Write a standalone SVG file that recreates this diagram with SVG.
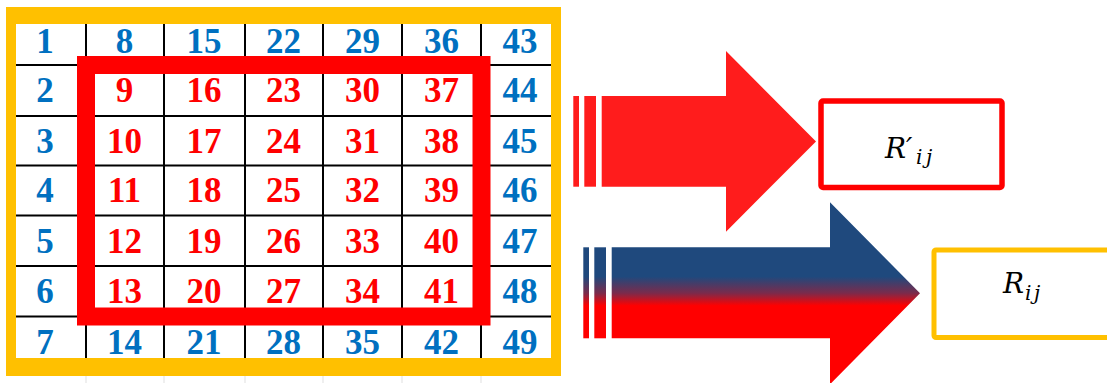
<svg xmlns="http://www.w3.org/2000/svg" width="1107" height="383" viewBox="0 0 1107 383">
<style>
.n{font-family:"Liberation Serif","Times New Roman",serif;font-weight:bold;font-size:35px;text-anchor:middle}
.b{fill:#0070C0}
.r{fill:#FF0000}
.gl{stroke:#000;stroke-width:2}
.m{font-family:"DejaVu Serif",serif;font-style:italic;font-size:28px;fill:#000}
.s{font-size:20px}
</style>
<defs>
<linearGradient id="grad" gradientUnits="userSpaceOnUse" x1="0" y1="202" x2="0" y2="384">
<stop offset="0" stop-color="#1F497D"/>
<stop offset="0.41" stop-color="#1F497D"/>
<stop offset="0.5" stop-color="#7A2B4C"/>
<stop offset="0.57" stop-color="#FF0000"/>
<stop offset="1" stop-color="#FF0000"/>
</linearGradient>
</defs>

<g id="matrix">
<rect x="6" y="7" width="555" height="369" fill="#FFC000"/>
<rect x="16" y="24" width="535" height="334" fill="#FFFFFF"/>
<g class="gl">
<line x1="86" y1="24" x2="86" y2="358"/>
<line x1="164" y1="24" x2="164" y2="358"/>
<line x1="245" y1="24" x2="245" y2="358"/>
<line x1="323" y1="24" x2="323" y2="358"/>
<line x1="402" y1="24" x2="402" y2="358"/>
<line x1="481" y1="24" x2="481" y2="358"/>
<line x1="16" y1="65" x2="551" y2="65"/>
<line x1="16" y1="116" x2="551" y2="116"/>
<line x1="16" y1="165.5" x2="551" y2="165.5"/>
<line x1="16" y1="215.5" x2="551" y2="215.5"/>
<line x1="16" y1="266" x2="551" y2="266"/>
<line x1="16" y1="316.5" x2="551" y2="316.5"/>
</g>
<g stroke="#E4E4E4" stroke-width="1.2">
<line x1="86" y1="376" x2="86" y2="383"/>
<line x1="164" y1="376" x2="164" y2="383"/>
<line x1="245" y1="376" x2="245" y2="383"/>
<line x1="323" y1="376" x2="323" y2="383"/>
<line x1="402" y1="376" x2="402" y2="383"/>
<line x1="481" y1="376" x2="481" y2="383"/>
</g>
<rect x="86" y="65" width="395.5" height="251.5" fill="none" stroke="#FF0000" stroke-width="18"/>
<g class="n">
<text class="b" x="45" y="53">1</text>
<text class="b" x="45" y="102">2</text>
<text class="b" x="45" y="152.5">3</text>
<text class="b" x="45" y="202">4</text>
<text class="b" x="45" y="253">5</text>
<text class="b" x="45" y="303">6</text>
<text class="b" x="45" y="354">7</text>

<text class="b" x="124.5" y="53">8</text>
<text class="r" x="124.5" y="102">9</text>
<text class="r" x="124.5" y="152.5">10</text>
<text class="r" x="124.5" y="202">11</text>
<text class="r" x="124.5" y="253">12</text>
<text class="r" x="124.5" y="303">13</text>
<text class="b" x="124.5" y="354">14</text>

<text class="b" x="204" y="53">15</text>
<text class="r" x="204" y="102">16</text>
<text class="r" x="204" y="152.5">17</text>
<text class="r" x="204" y="202">18</text>
<text class="r" x="204" y="253">19</text>
<text class="r" x="204" y="303">20</text>
<text class="b" x="204" y="354">21</text>

<text class="b" x="283.5" y="53">22</text>
<text class="r" x="283.5" y="102">23</text>
<text class="r" x="283.5" y="152.5">24</text>
<text class="r" x="283.5" y="202">25</text>
<text class="r" x="283.5" y="253">26</text>
<text class="r" x="283.5" y="303">27</text>
<text class="b" x="283.5" y="354">28</text>

<text class="b" x="362.5" y="53">29</text>
<text class="r" x="362.5" y="102">30</text>
<text class="r" x="362.5" y="152.5">31</text>
<text class="r" x="362.5" y="202">32</text>
<text class="r" x="362.5" y="253">33</text>
<text class="r" x="362.5" y="303">34</text>
<text class="b" x="362.5" y="354">35</text>

<text class="b" x="441.5" y="53">36</text>
<text class="r" x="441.5" y="102">37</text>
<text class="r" x="441.5" y="152.5">38</text>
<text class="r" x="441.5" y="202">39</text>
<text class="r" x="441.5" y="253">40</text>
<text class="r" x="441.5" y="303">41</text>
<text class="b" x="441.5" y="354">42</text>

<text class="b" x="520" y="53">43</text>
<text class="b" x="520" y="102">44</text>
<text class="b" x="520" y="152.5">45</text>
<text class="b" x="520" y="202">46</text>
<text class="b" x="520" y="253">47</text>
<text class="b" x="520" y="303">48</text>
<text class="b" x="520" y="354">49</text>
</g>
</g>

<g id="connectors">
<g id="arrow-red" fill="#FF1C1C">
<rect x="573.3" y="96" width="5.7" height="90.7"/>
<rect x="584.3" y="96" width="11.7" height="90.7"/>
<path d="M601.7,96 H726 V51 L816,141.5 L726,231.7 V186.7 H601.7 Z"/>
</g>
<g id="arrow-gradient" fill="url(#grad)">
<rect x="583.3" y="247.3" width="5.7" height="91"/>
<rect x="594.3" y="247.3" width="11.7" height="91"/>
<path d="M611.7,247.3 H830 V202.3 L920,293.3 L830,384.3 V338.3 H611.7 Z"/>
</g>
</g>

<g id="node-Rprime">
<rect x="821" y="101" width="181" height="86.5" rx="2" fill="#FFFFFF" stroke="#FF0000" stroke-width="5.5"/>
<text class="m" x="885" y="158">R<tspan x="906">′</tspan><tspan class="s" x="916" y="164">i</tspan><tspan class="s" x="926" y="164">j</tspan></text>
</g>

<g id="node-R">
<rect x="934" y="250" width="200" height="87.5" rx="2" fill="#FFFFFF" stroke="#FFC000" stroke-width="5"/>
<text class="m" x="1003" y="293.3">R<tspan class="s" x="1025" y="300">i</tspan><tspan class="s" x="1034" y="300">j</tspan></text>
</g>
</svg>
